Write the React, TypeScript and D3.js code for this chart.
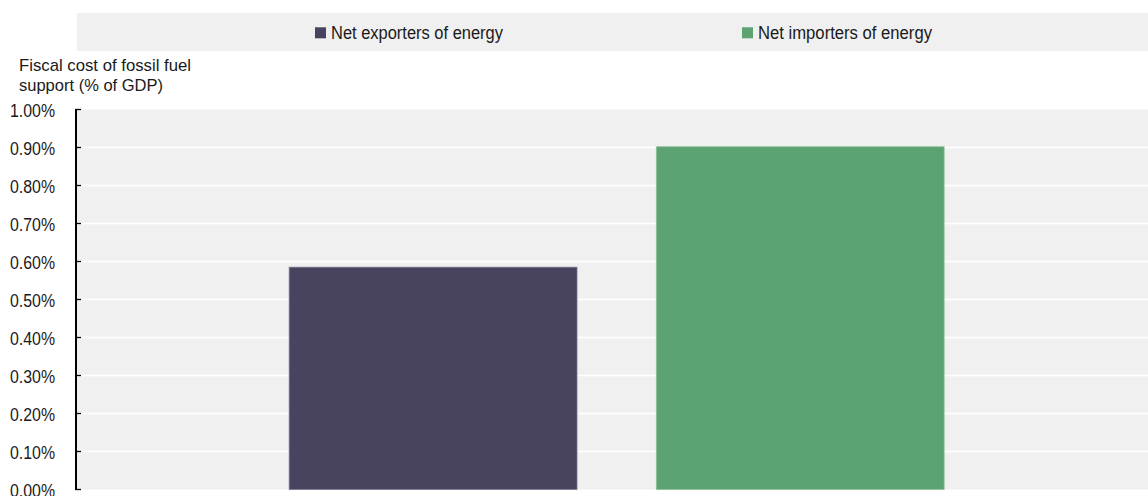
import React from "react";
import * as d3 from "d3";

const categories = ["All"];
const seriesNames = ["Net exporters of energy", "Net importers of energy"];
const seriesColors = ["#484460", "#5da271"];
const seriesStrokes = ["#7a7690", "#8cc49c"];
const seriesValues = [0.585, 0.902];
const yTicks = [0, 0.1, 0.2, 0.3, 0.4, 0.5, 0.6, 0.7, 0.8, 0.9, 1.0];
const yTitle = ["Fiscal cost of fossil fuel", "support (% of GDP)"];

const W = 1148;
const H = 496;
const FONT = "'Liberation Sans', Arial, sans-serif";

export default function App() {
  const left = 77;
  const right = 1148;
  const top = 109.5;
  const bottom = 489.5;

  const x0 = d3
    .scaleBand<string>()
    .domain(categories)
    .range([left, right])
    .paddingInner(0)
    .paddingOuter(0.3176)
    .align(0.51);
  const x1 = d3
    .scaleBand<string>()
    .domain(seriesNames)
    .range([0, x0.bandwidth()])
    .paddingInner(0.216);
  const y = d3.scaleLinear().domain([0, 1.0]).range([bottom, top]);

  const legendX = [315, 742];
  const legendLen = [172, 174];
  const titleLen = [172, 144];

  return (
    <svg
      width={W}
      height={H}
      style={{ position: "absolute", left: 0, top: 0, background: "#fff" }}
      fontFamily={FONT}
    >
      {/* legend band */}
      <rect x={77} y={13} width={W - 77} height={38} fill="#f0f0f0" />
      {seriesNames.map((s, i) => (
        <g key={s}>
          <rect x={legendX[i]} y={27.3} width={11} height={11} fill={seriesColors[i]} />
          <text
            x={legendX[i] + 16}
            y={39}
            fontSize={18}
            fill="#1a1a1a"
            textLength={legendLen[i]}
            lengthAdjust="spacingAndGlyphs"
          >
            {s}
          </text>
        </g>
      ))}

      {/* y title */}
      {yTitle.map((t, i) => (
        <text
          key={t}
          x={19}
          y={71 + i * 19.5}
          fontSize={17}
          fill="#1a1a1a"
          textLength={titleLen[i]}
          lengthAdjust="spacingAndGlyphs"
        >
          {t}
        </text>
      ))}

      {/* plot bg */}
      <rect x={left} y={top} width={right - left} height={bottom - top} fill="#f0f0f0" />

      {/* gridlines */}
      {yTicks.slice(1, -1).map((t) => (
        <line key={t} x1={left} x2={right} y1={y(t)} y2={y(t)} stroke="#ffffff" strokeWidth={1.5} />
      ))}

      {/* bars */}
      {categories.map((c) =>
        seriesNames.map((s, i) => (
          <rect
            key={c + s}
            x={(x0(c) as number) + (x1(s) as number)}
            y={y(seriesValues[i])}
            width={x1.bandwidth()}
            height={y(0) - y(seriesValues[i])}
            fill={seriesColors[i]}
            stroke={seriesStrokes[i]}
            strokeWidth={0.8}
          />
        ))
      )}

      {/* axis */}
      <line x1={76} x2={76} y1={top} y2={bottom} stroke="#000" strokeWidth={2} />
      {yTicks.map((t) => (
        <g key={t}>
          <line x1={75} x2={81} y1={y(t)} y2={y(t)} stroke="#000" strokeWidth={1.3} />
          <text
            x={55}
            y={y(t) + 7}
            textAnchor="end"
            fontSize={18}
            fill="#1a1a1a"
            textLength={45}
            lengthAdjust="spacingAndGlyphs"
          >
            {d3.format(".2f")(t) + "%"}
          </text>
        </g>
      ))}
    </svg>
  );
}
